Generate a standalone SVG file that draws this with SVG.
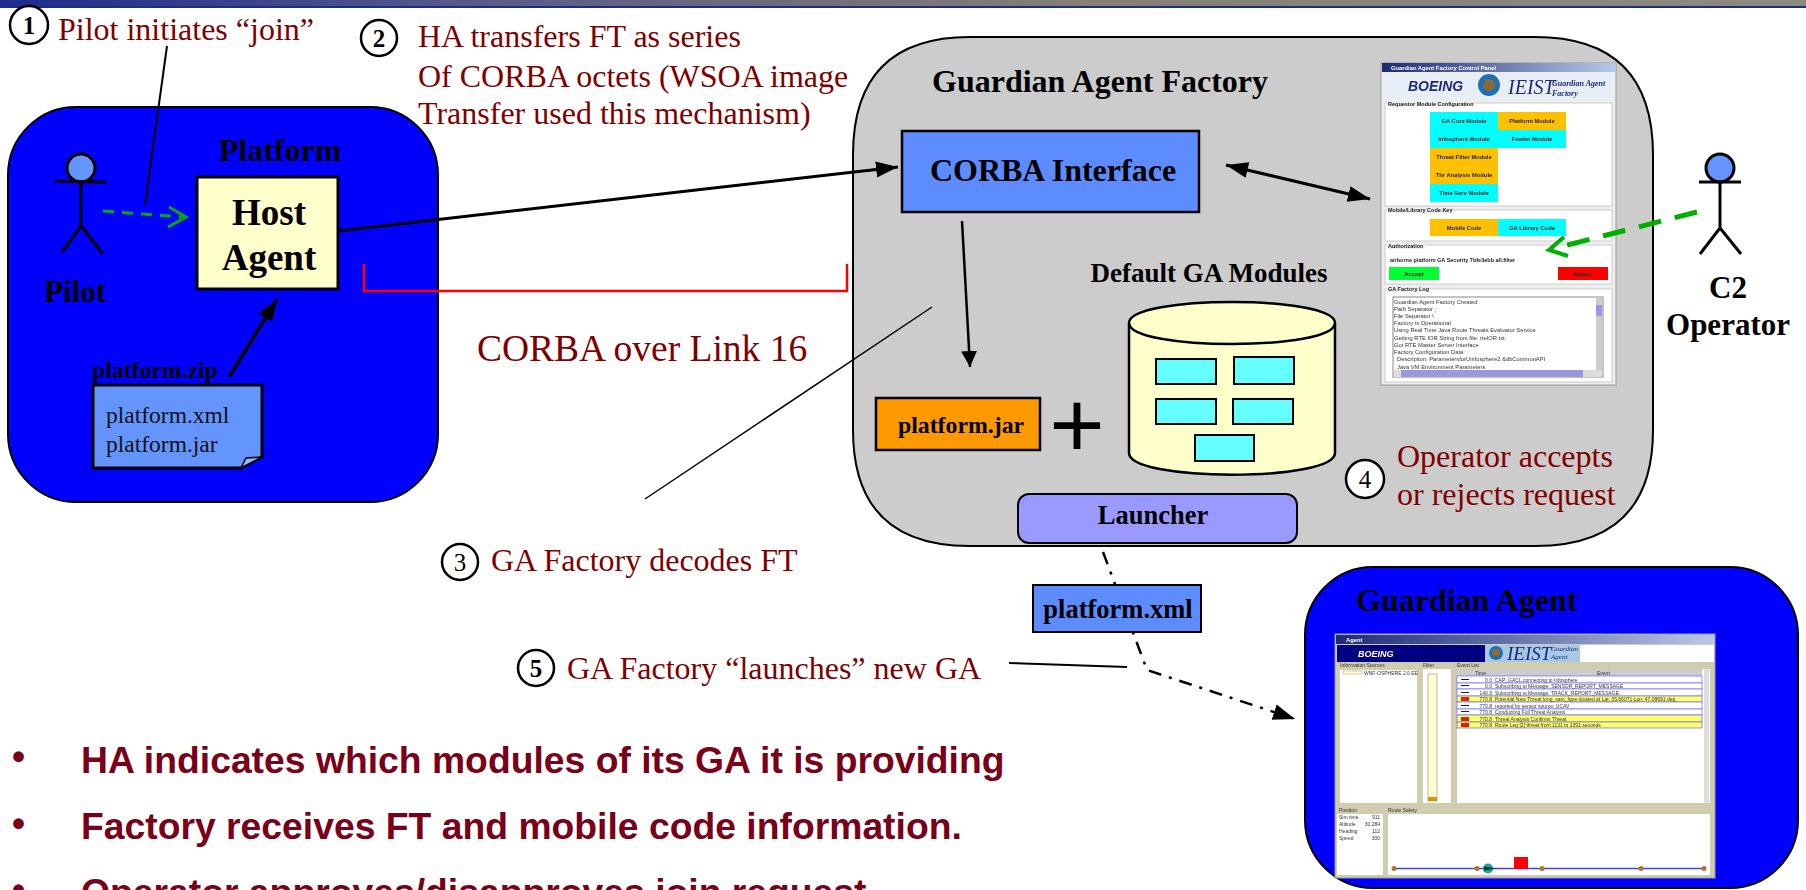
<svg xmlns="http://www.w3.org/2000/svg" width="1806" height="890" viewBox="0 0 1806 890" style="font-family:'Liberation Serif','Times New Roman',serif">
<style>
.r{fill:#800000;font-size:32px}
.b{font-weight:bold;fill:#000}
.h{font-family:"Liberation Sans",Arial,sans-serif;font-weight:bold;font-size:37.300px;fill:#7a0019}
.l{fill:none;stroke:#000;stroke-width:3}
.s{font-family:"Liberation Sans",Arial,sans-serif;font-size:5.800px;fill:#333}
.e{font-family:"Liberation Sans",Arial,sans-serif;font-size:5px;fill:#333}
.sb{font-family:"Liberation Sans",Arial,sans-serif;font-size:5.500px;font-weight:bold;fill:#222}
.m{font-family:"Liberation Sans",Arial,sans-serif;font-size:5.800px;font-weight:bold;fill:#222;text-anchor:middle}
.c{fill:#fff;stroke:#000;stroke-width:2.500}
.sec{fill:#fff;stroke:#ccc}
</style>
<defs>
<linearGradient id="bar" x1="0" x2="1" y1="0" y2="0"><stop offset="0" stop-color="#1c2c8c"/><stop offset=".25" stop-color="#55598a"/><stop offset=".6" stop-color="#857f74"/><stop offset="1" stop-color="#8d8a82"/></linearGradient>
<linearGradient id="tb" x1="0" x2="1" y1="0" y2="0"><stop offset="0" stop-color="#1d2a78"/><stop offset="1" stop-color="#b8c8e8"/></linearGradient>
<filter id="soft" x="-2%" y="-2%" width="104%" height="104%"><feGaussianBlur stdDeviation="0.5"/></filter>
<marker id="ab" markerUnits="userSpaceOnUse" markerWidth="24" markerHeight="20" refX="22" refY="10" orient="auto"><path d="M0 2L22 10L0 18z" fill="#000"/></marker>
<marker id="ad" markerUnits="userSpaceOnUse" markerWidth="18" markerHeight="16" refX="16" refY="8" orient="auto"><path d="M0 0L16 8L0 16z" fill="#000"/></marker>
<marker id="abs" markerUnits="userSpaceOnUse" markerWidth="24" markerHeight="20" refX="0" refY="10" orient="auto"><path d="M22 2L0 10L22 18z" fill="#000"/></marker>
</defs>
<rect width="1806" height="890" fill="#fff"/>
<rect width="1806" height="8" fill="url(#bar)"/>
<rect y="6" width="1806" height="2" fill="#1f2c84"/>

<g id="platform">
<rect x="8" y="107" width="430" height="395" rx="68" fill="#00f" stroke="#000" stroke-width="2"/>
<text x="280" y="161" class="b" font-size="32" text-anchor="middle">Platform</text>
</g>
<g id="pilot">
<circle cx="81" cy="168" r="14" fill="#6495ff" stroke="#000" stroke-width="3"/>
<path class="l" d="M55 181L107 182M81 182V226M81 226L62 252M82 227L103 254"/>
<text x="75" y="302" class="b" font-size="31" text-anchor="middle">Pilot</text>
</g>
<g id="host-agent">
<rect x="197" y="177" width="141" height="112" fill="#ffffcc" stroke="#000" stroke-width="3"/>
<text x="269" y="225" class="b" font-size="37" text-anchor="middle">Host</text>
<text x="269" y="270" class="b" font-size="37" text-anchor="middle">Agent</text>
</g>
<g id="platform-zip">
<text x="92" y="378" class="b" font-size="23.700">platform.zip</text>
<path d="M93 385H262V457L241 468H93z" fill="#6495ff" stroke="#000" stroke-width="3"/>
<path d="M241 468L246 458L262 457z" fill="#9ab8ff" stroke="#000" stroke-width="1.500"/>
<text x="106" y="423" font-size="23.500" fill="#111">platform.xml</text>
<text x="106" y="452" font-size="23.500" fill="#111">platform.jar</text>
</g>

<g id="factory">
<path d="M853 155Q853 37 970 37H1535Q1653 37 1653 155V430Q1653 546 1535 546H970Q853 546 853 430z" fill="#ccc" stroke="#000" stroke-width="2"/>
<text x="1100" y="92" class="b" font-size="32" text-anchor="middle">Guardian Agent Factory</text>
</g>
<g id="corba-interface">
<rect x="902" y="131" width="297" height="81" fill="#5c8cff" stroke="#000" stroke-width="2.500"/>
<text x="1053" y="181" class="b" font-size="32" text-anchor="middle">CORBA Interface</text>
</g>
<g id="platform-jar">
<rect x="876" y="398" width="164" height="52" fill="#ff9900" stroke="#000" stroke-width="2.500"/>
<text x="961" y="433" class="b" font-size="23.800" text-anchor="middle">platform.jar</text>
<text x="1077" y="457" font-size="95" text-anchor="middle" fill="#000" style="font-family:'Liberation Sans',Arial,sans-serif">+</text>
</g>
<g id="default-modules">
<text x="1209" y="282" class="b" font-size="27" text-anchor="middle">Default GA Modules</text>
<path d="M1129 323C1129 295 1335 295 1335 323V453C1335 482 1129 482 1129 453z" fill="#ffffcc" stroke="#000" stroke-width="2.500"/>
<path d="M1129 323C1129 351 1335 351 1335 323" fill="none" stroke="#000" stroke-width="2.500"/>
<g fill="#66ffff" stroke="#000" stroke-width="2">
<rect x="1156" y="359" width="60" height="25"/><rect x="1234" y="357" width="60" height="27"/>
<rect x="1156" y="399" width="60" height="25"/><rect x="1233" y="399" width="60" height="25"/>
<rect x="1195" y="435" width="59" height="26"/>
</g>
</g>
<g id="launcher">
<rect x="1018" y="494" width="279" height="49" rx="11" fill="#9999ff" stroke="#000" stroke-width="2"/>
<text x="1153" y="524" class="b" font-size="26.500" text-anchor="middle">Launcher</text>
</g>

<g id="control-panel" filter="url(#soft)">
<rect x="1381" y="63" width="235" height="322" fill="#eee" stroke="#999"/>
<rect x="1382" y="63" width="233" height="9" fill="url(#tb)"/>
<text x="1391" y="70" class="s" style="fill:#fff;font-weight:bold">Guardian Agent Factory Control Panel</text>
<rect x="1384" y="73" width="229" height="25" fill="#e8eef8"/>
<text x="1408" y="91" font-size="14" font-weight="bold" font-style="italic" fill="#1d2a78" style="font-family:'Liberation Sans',Arial,sans-serif">BOEING</text>
<circle cx="1489" cy="85" r="11" fill="#1f6fb8"/><circle cx="1489" cy="85" r="6" fill="#8a6a30"/>
<text x="1508" y="94" font-size="20" font-style="italic" fill="#1d2a78">IEIST</text>
<text x="1552" y="86" font-size="8" font-weight="bold" font-style="italic" fill="#1d2a78">Guardian Agent</text>
<text x="1552" y="96" font-size="8" font-weight="bold" font-style="italic" fill="#1d2a78">Factory</text>
<rect x="1385" y="103" width="227" height="103" class="sec"/>
<rect x="1387" y="100" width="86" height="6" fill="#eee"/>
<text x="1388" y="106" class="sb">Requestor Module Configuration</text>
<rect x="1430" y="112" width="68" height="18" fill="#00ffff"/><rect x="1498" y="112" width="68" height="18" fill="#ffc000"/>
<rect x="1430" y="130" width="68" height="18" fill="#00ffff"/><rect x="1498" y="130" width="68" height="18" fill="#00ffff"/>
<rect x="1430" y="148" width="68" height="19" fill="#ffc000"/>
<rect x="1430" y="167" width="68" height="17" fill="#ffc000"/>
<rect x="1430" y="184" width="68" height="18" fill="#00ffff"/>
<text x="1464" y="123" class="m">GA Core Module</text><text x="1532" y="123" class="m">Platform Module</text>
<text x="1464" y="141" class="m">Infosphere Module</text><text x="1532" y="141" class="m">Fowler Module</text>
<text x="1464" y="159" class="m">Threat Filter Module</text>
<text x="1464" y="177" class="m">Thr Analysis Module</text>
<text x="1464" y="195" class="m">Time Serv Module</text>
<rect x="1385" y="210" width="227" height="31" class="sec"/>
<rect x="1387" y="207" width="62" height="6" fill="#eee"/>
<text x="1388" y="212" class="sb">Mobile/Library Code Key</text>
<rect x="1430" y="219" width="68" height="17" fill="#ffc000"/><rect x="1498" y="219" width="68" height="17" fill="#00ffff"/>
<text x="1464" y="230" class="m">Mobile Code</text><text x="1532" y="230" class="m">GA Library Code</text>
<rect x="1385" y="245" width="227" height="39" class="sec"/>
<rect x="1387" y="243" width="38" height="6" fill="#eee"/>
<text x="1388" y="248" class="sb">Authorization</text>
<text x="1390" y="262" class="sb">airborne platform GA Security 7bfe3ebb all.filter</text>
<rect x="1389" y="267" width="50" height="13" fill="#00ff33"/><rect x="1558" y="267" width="50" height="13" fill="#ff0000"/>
<text x="1414" y="276" class="m">Accept</text><text x="1583" y="276" class="m">Reject</text>
<rect x="1385" y="289" width="227" height="93" class="sec"/>
<rect x="1387" y="286" width="40" height="6" fill="#eee"/>
<text x="1388" y="291" class="sb">GA Factory Log</text>
<rect x="1393" y="297" width="210" height="80" fill="#fff" stroke="#888"/>
<g class="s">
<text x="1394" y="304">Guardian Agent Factory Created</text>
<text x="1394" y="311">Path Separator ;</text>
<text x="1394" y="318">File Separator \</text>
<text x="1394" y="325">Factory is Operational</text>
<text x="1394" y="332">Using Real Time Java Route Threats Evaluator Service</text>
<text x="1394" y="340">Getting RTE IOR String from file: rteIOR.txt</text>
<text x="1394" y="347">Got RTE Master Server Interface</text>
<text x="1394" y="354">Factory Configuration Data:</text>
<text x="1397" y="361">Description: ParametersforUnifosphere2 &amp;dbCommonAPI</text>
<text x="1397" y="369">Java VM Environment Parameters</text>
</g>
<rect x="1596" y="298" width="6" height="72" fill="#ccc"/><rect x="1596" y="305" width="6" height="11" fill="#9999dd"/>
<rect x="1394" y="370" width="208" height="7" fill="#ddd"/><rect x="1401" y="370" width="182" height="7" fill="#9999dd"/>
</g>

<g id="guardian-agent">
<rect x="1305" y="567" width="493" height="321" rx="68" fill="#00f" stroke="#000" stroke-width="2"/>
<text x="1356" y="611" class="b" font-size="32">Guardian Agent</text>
</g>
<g id="agent-window" filter="url(#soft)">
<rect x="1335" y="634" width="380" height="244" fill="#d0ccb0" stroke="#999"/>
<rect x="1336" y="635" width="378" height="9" fill="url(#tb)"/>
<text x="1346" y="642" class="s" style="fill:#fff;font-weight:bold">Agent</text>
<rect x="1337" y="645" width="148" height="17" fill="#000080"/>
<rect x="1485" y="645" width="229" height="17" fill="#fff"/>
<rect x="1485" y="645" width="95" height="17" fill="#a8c8e8"/>
<text x="1358" y="657" font-size="9" font-weight="bold" font-style="italic" fill="#fff" style="font-family:'Liberation Sans',Arial,sans-serif">BOEING</text>
<circle cx="1496" cy="653" r="7" fill="#1f6fb8"/><circle cx="1496" cy="653" r="4" fill="#8a6a30"/>
<text x="1507" y="660" font-size="19" font-style="italic" fill="#1d2a78">IEIST</text>
<text x="1551" y="651" font-size="7" font-style="italic" fill="#1d2a78">Guardian</text>
<text x="1551" y="659" font-size="7" font-style="italic" fill="#1d2a78">Agent</text>
<rect x="1340" y="670" width="77" height="133" fill="#fff"/>
<text x="1340" y="667" class="e">Information Sources</text>
<rect x="1343" y="671" width="19" height="3" fill="#ffffcc" stroke="#999" stroke-width=".5"/>
<text x="1364" y="675" class="e">WNF-OSPHERE 2.0 EE</text>
<rect x="1423" y="669" width="28" height="134" fill="#fff"/>
<text x="1423" y="667" class="e">Filter</text>
<rect x="1428" y="674" width="9" height="127" fill="#ffffcc" stroke="#999" stroke-width=".7"/>
<rect x="1428" y="797" width="9" height="4" fill="#e89000"/>
<rect x="1457" y="669" width="253" height="134" fill="#fff"/>
<text x="1457" y="667" class="e">Event List</text>
<rect x="1457" y="669" width="245" height="7" fill="#ccc"/>
<text x="1475" y="675" class="e">Time</text><text x="1597" y="675" class="e">Event</text>
<g stroke="#66f" stroke-width=".7" fill="#fff">
<rect x="1457" y="676" width="245" height="7"/><rect x="1457" y="683" width="245" height="6"/><rect x="1457" y="689" width="245" height="7"/>
<rect x="1457" y="696" width="245" height="6" fill="#ffff66"/>
<rect x="1457" y="702" width="245" height="7"/><rect x="1457" y="709" width="245" height="6"/>
<rect x="1457" y="715" width="245" height="7" fill="#ffff66"/><rect x="1457" y="722" width="245" height="6" fill="#ffff66"/>
</g>
<g class="e">
<text x="1495" y="682">CAP_GACL connecting to Infosphere</text>
<text x="1495" y="688">Subscribing to Message: SENSOR_REPORT_MESSAGE</text>
<text x="1495" y="695">Subscribing to Message: TRACK_REPORT_MESSAGE</text>
<text x="1495" y="701">Potential New Threat long_sam_fqpe located at Lat: 35.66071 Lon: 47.08691 deg</text>
<text x="1495" y="708">reported by sensor source: UCAV</text>
<text x="1495" y="714">Conducting Full Threat Analysis</text>
<text x="1495" y="721">Threat Analysis Confirms Threat</text>
<text x="1495" y="727">Route Leg [2] threat from 1131 to 1391 seconds</text>
</g>
<g class="e" text-anchor="end">
<text x="1492" y="682">0.0</text><text x="1492" y="688">0.0</text><text x="1492" y="695">140.3</text><text x="1492" y="701">770.8</text><text x="1492" y="708">770.8</text><text x="1492" y="714">770.8</text><text x="1492" y="721">770.8</text><text x="1492" y="727">770.8</text>
</g>
<g fill="#222"><rect x="1461" y="679" width="8" height="1"/><rect x="1461" y="685" width="8" height="1"/><rect x="1461" y="692" width="8" height="1"/><rect x="1461" y="705" width="8" height="1"/><rect x="1461" y="711" width="8" height="1"/></g>
<g fill="#e02000"><rect x="1461" y="697" width="8" height="4"/><rect x="1461" y="717" width="8" height="4"/><rect x="1461" y="723" width="8" height="4"/></g>
<rect x="1704" y="669" width="5" height="134" fill="#ddd"/>
<text x="1339" y="812" class="e">Position</text>
<text x="1388" y="812" class="e">Route Safety</text>
<rect x="1337" y="814" width="46" height="61" fill="#fff"/>
<rect x="1388" y="814" width="322" height="61" fill="#fff"/>
<g class="e">
<text x="1339" y="819">Sim time</text><text x="1380" y="819" text-anchor="end">911</text>
<text x="1339" y="826">Altitude</text><text x="1380" y="826" text-anchor="end">30,284</text>
<text x="1339" y="833">Heading</text><text x="1380" y="833" text-anchor="end">112</text>
<text x="1339" y="840">Speed</text><text x="1380" y="840" text-anchor="end">300</text>
</g>
<path d="M1394 868.500H1705" stroke="#4444dd" stroke-width="1.500"/>
<g fill="#b87030"><circle cx="1394" cy="868.500" r="2.500"/><circle cx="1477" cy="868.500" r="2.500"/><circle cx="1542" cy="868.500" r="2.500"/><circle cx="1641" cy="868.500" r="2.500"/><circle cx="1704" cy="868.500" r="2.500"/></g>
<circle cx="1488" cy="868.500" r="5" fill="#20a0a0"/><path d="M1484 866.500L1497 868.500L1484 870.500z" fill="#004040"/>
<rect x="1514" y="857" width="14" height="12" fill="#ff0000"/>
</g>

<g id="operator">
<circle cx="1720" cy="168" r="14" fill="#6495ff" stroke="#000" stroke-width="3"/>
<path class="l" d="M1699 182H1741M1720 182V228M1720 228L1700 254M1720 228L1741 254"/>
<text x="1728" y="298" class="b" font-size="31" text-anchor="middle">C2</text>
<text x="1728" y="335" class="b" font-size="31" text-anchor="middle">Operator</text>
</g>

<g id="connectors">
<path d="M167 46L145 205" fill="none" stroke="#000" stroke-width="2"/>
<path d="M103 211L182 217" fill="none" stroke="#00b000" stroke-width="3" stroke-dasharray="11 8"/>
<path d="M169 207L186 217L168 227" fill="none" stroke="#00b000" stroke-width="3"/>
<path d="M338 231L898 167" class="l" marker-end="url(#ab)"/>
<path d="M364 264V291H847V264" fill="none" stroke="#ff0000" stroke-width="2.500"/>
<path d="M229 377L277 299" fill="none" stroke="#000" stroke-width="3.500" marker-end="url(#ab)"/>
<path d="M1226 165L1370 199" class="l" marker-start="url(#abs)" marker-end="url(#ab)"/>
<path d="M962 221L970 367" fill="none" stroke="#000" stroke-width="2.500" marker-end="url(#ad)"/>
<path d="M645 499L932 307" fill="none" stroke="#000" stroke-width="1.500"/>
<path d="M1697 212L1552 249" fill="none" stroke="#00b000" stroke-width="5" stroke-dasharray="23 14"/>
<path d="M1564 237L1549 250L1568 256" fill="none" stroke="#00b000" stroke-width="4"/>
<path d="M1103 552L1147 670L1295 719" fill="none" stroke="#000" stroke-width="2.500" stroke-dasharray="13 8 3 8" marker-end="url(#ab)"/>
<path d="M1009 663L1127 667" fill="none" stroke="#000" stroke-width="2"/>
</g>

<g id="platform-xml">
<rect x="1033" y="585" width="168" height="47" fill="#5c8cff" stroke="#000" stroke-width="2"/>
<text x="1118" y="618" class="b" font-size="26.500" text-anchor="middle">platform.xml</text>
</g>

<g id="step-1"><circle cx="29" cy="25" r="19" class="c"/><text x="29" y="34" class="b" font-size="25" text-anchor="middle">1</text>
<text x="58" y="40" class="r">Pilot initiates “join”</text></g>
<g id="step-2"><circle cx="379" cy="38" r="18" class="c"/><text x="379" y="47" class="b" font-size="25" text-anchor="middle">2</text>
<text x="418" y="47" class="r">HA transfers FT as series</text>
<text x="418" y="87" class="r">Of CORBA octets (WSOA image</text>
<text x="418" y="124" class="r">Transfer used this mechanism)</text></g>
<text id="corba-link" x="477" y="361" class="r" style="font-size:37.500px">CORBA over Link 16</text>
<g id="step-3"><circle cx="460" cy="562" r="18" class="c"/><text x="460" y="571" font-size="25" text-anchor="middle" fill="#000">3</text>
<text x="491" y="571" class="r">GA Factory decodes FT</text></g>
<g id="step-4"><circle cx="1365" cy="479" r="19" class="c"/><text x="1365" y="488" font-size="25" text-anchor="middle" fill="#000">4</text>
<text x="1397" y="467" class="r">Operator accepts</text>
<text x="1397" y="505" class="r">or rejects request</text></g>
<g id="step-5"><circle cx="536" cy="668" r="18" class="c"/><text x="536" y="677" class="b" font-size="25" text-anchor="middle">5</text>
<text x="567" y="679" class="r">GA Factory “launches” new GA</text></g>

<g id="bullets">
<text x="12" y="769" class="h">•</text><text x="81" y="773" class="h">HA indicates which modules of its GA it is providing</text>
<text x="12" y="836" class="h">•</text><text x="81" y="839" class="h">Factory receives FT and mobile code information.</text>
<text x="12" y="902" class="h">•</text><text x="81" y="905" class="h">Operator approves/disapproves join request</text>
</g>
</svg>
